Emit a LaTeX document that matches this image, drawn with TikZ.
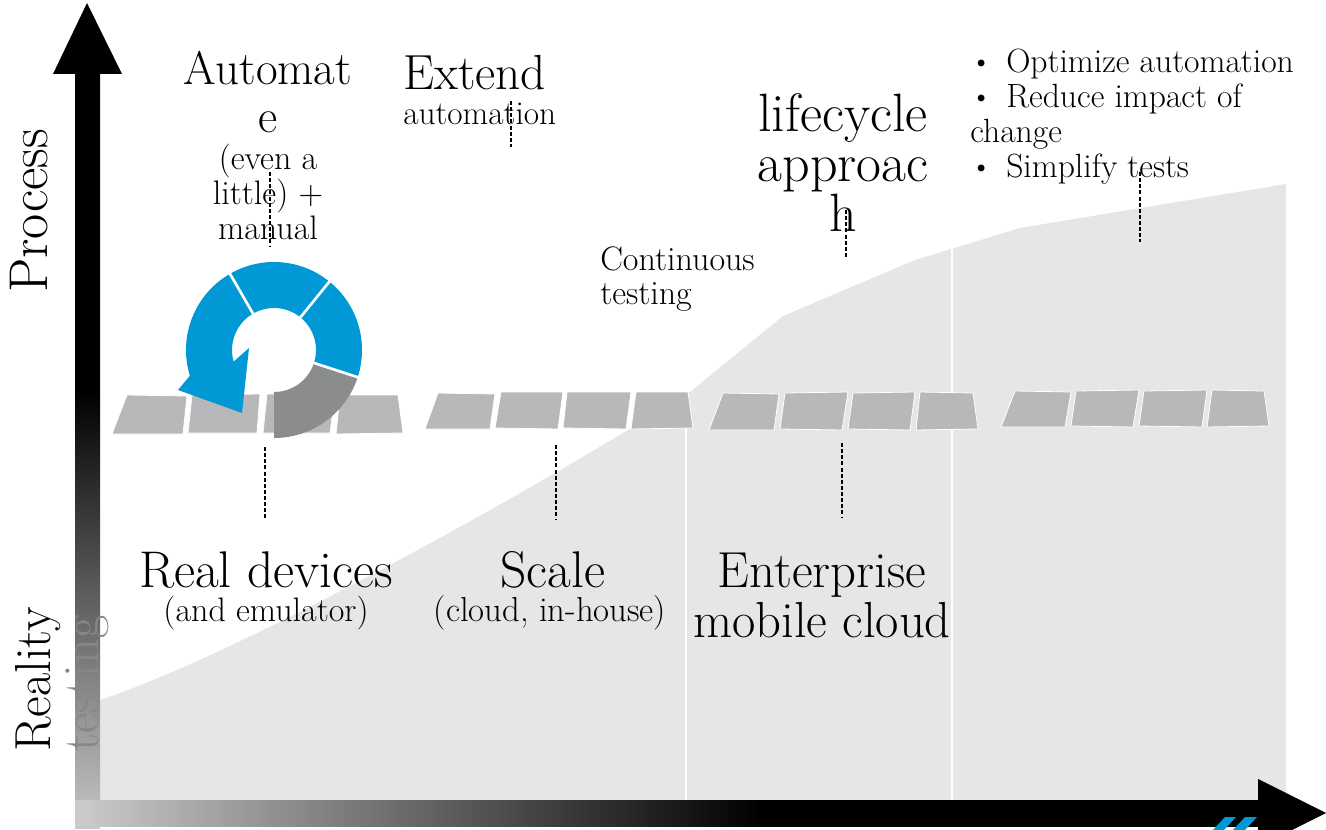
\documentclass[tikz,border=0pt]{standalone}
\usepackage{fontspec}
\usetikzlibrary{calc}
\definecolor{areagray}{HTML}{E4E6E7}
\definecolor{tilegray}{HTML}{B8B8BA}
\definecolor{ringblue}{HTML}{0098D5}
\definecolor{ringgray}{HTML}{8B8C8E}
\definecolor{labelgray}{HTML}{878787}
\pgfdeclarehorizontalshading{xaxisshade}{100bp}{color(0bp)=(black!20); color(25bp)=(black!20); color(54bp)=(black); color(100bp)=(black)}
\pgfdeclareverticalshading{yaxisshade}{100bp}{color(0bp)=(black!22); color(25bp)=(black!22); color(54bp)=(black); color(100bp)=(black)}
\tikzset{
  tile/.style={fill=tilegray, draw=white, line width=0.6pt, line join=round},
  guide/.style={draw=black, line width=1pt, dash pattern=on 3pt off 1.6pt},
  sep/.style={draw=white, line width=2pt},
  divider/.style={draw=white, line width=2.2pt},
  bigtxt/.style={inner sep=0pt, font=\fontsize{38.7}{37.5}\selectfont},
  smalltxt/.style={inner sep=0pt, font=\fontsize{25.5}{26.25}\selectfont},
}
\newcommand{\bul}{\makebox[27pt][l]{\raisebox{0.03em}{\scalebox{0.9}{\textbullet}}}}
\begin{document}
\begin{tikzpicture}[x=0.75pt,y=-0.75pt]
\useasboundingbox (0,0) rectangle (1326,830);
% grey area under the curve
\fill[areagray] (100,800) -- (100,700) .. controls (250,650) and (550,480) .. (690,392)
  -- (783,316) -- (915,260) -- (1020,228) -- (1286,184) -- (1286,800) -- cycle;
\draw[divider] (686,392) -- (686,800);
\draw[divider] (952,247) -- (952,800);
% axes
\shade[shading=yaxisshade] (75,74) rectangle (100,828);
\fill[black] (53,74) -- (87,3) -- (122,74) -- cycle;
\shade[shading=xaxisshade] (75,800) rectangle (1259,826);
\fill[black] (1258,779) -- (1326,813) -- (1258,847) -- cycle;
% logo fragment
\fill[ringblue] (1213,830) -- (1225,817) -- (1236,817) -- (1224,830) -- cycle;
\fill[ringblue] (1233,830) -- (1245,817) -- (1257,817) -- (1245,830) -- cycle;
% tiles group 1
\path[tile] (127,395) -- (187,396) -- (183,434) -- (112,434) -- cycle;
\path[tile] (192,395) -- (260,394) -- (257,433) -- (188,433) -- cycle;
\path[tile] (267,394) -- (335,395) -- (330,433) -- (263,433) -- cycle;
\path[tile] (340,395) -- (398,395) -- (403,433) -- (336,434) -- cycle;
% tiles group 2
\path[tile] (438,393) -- (495,394) -- (490,429) -- (425,429) -- cycle;
\path[tile] (501,392) -- (563,392) -- (558,429) -- (495,428) -- cycle;
\path[tile] (567,392) -- (631,392) -- (626,429) -- (563,428) -- cycle;
\path[tile] (636,392) -- (688,392) -- (693,428) -- (631,429) -- cycle;
% tiles group 3
\path[tile] (723,393) -- (779,394) -- (774,430) -- (709,430) -- cycle;
\path[tile] (785,393) -- (848,392) -- (842,430) -- (780,429) -- cycle;
\path[tile] (853,393) -- (915,392) -- (910,430) -- (848,429) -- cycle;
\path[tile] (920,392) -- (973,393) -- (978,429) -- (916,430) -- cycle;
% tiles group 4
\path[tile] (1015,391) -- (1071,392) -- (1065,427) -- (1001,427) -- cycle;
\path[tile] (1076,391) -- (1139,390) -- (1133,427) -- (1071,426) -- cycle;
\path[tile] (1144,391) -- (1207,390) -- (1202,427) -- (1139,426) -- cycle;
\path[tile] (1212,390) -- (1264,391) -- (1269,426) -- (1207,427) -- cycle;
% circular arrow
\coordinate (cc) at (274,350);
\fill[ringgray] ([shift={(90:88)}]cc) arc[start angle=90, end angle=18, radius=88]
  -- ([shift={(18:42)}]cc) arc[start angle=18, end angle=90, radius=42] -- cycle;
\fill[ringblue] ([shift={(18:88)}]cc) arc[start angle=18, end angle=-51, radius=88]
  -- ([shift={(-51:42)}]cc) arc[start angle=-51, end angle=18, radius=42] -- cycle;
\fill[ringblue] ([shift={(-51:88)}]cc) arc[start angle=-51, end angle=-120, radius=88]
  -- ([shift={(-120:42)}]cc) arc[start angle=-120, end angle=-51, radius=42] -- cycle;
\fill[ringblue] ([shift={(-120:88)}]cc) arc[start angle=-120, end angle=-197, radius=88]
  -- (178,390) -- (242,413) -- (249,348)
  -- ([shift={(-196:42)}]cc) arc[start angle=-196, end angle=-120, radius=42] -- cycle;
\draw[sep] ([shift={(18:40)}]cc) -- ([shift={(18:90)}]cc);
\draw[sep] ([shift={(-51:40)}]cc) -- ([shift={(-51:90)}]cc);
\draw[sep] ([shift={(-120:40)}]cc) -- ([shift={(-120:90)}]cc);
% axis labels
\node[inner sep=0pt, font=\fontsize{41}{40}\selectfont, rotate=90, anchor=base west] (process) at (47,293) {Process};
\node[inner sep=0pt, font=\fontsize{38}{36}\selectfont, rotate=90, anchor=base west] (reality) at (50,752) {Reality};
\node[inner sep=0pt, font=\fontsize{38}{36}\selectfont, rotate=90, anchor=base west, text=labelgray] (testing) at (98,752) {testing};
% top labels
\node[inner sep=0pt, font=\fontsize{35.3}{36}\selectfont, align=center, anchor=base] (automate) at (268,133) {Automat\\e};
\node[smalltxt, align=center, anchor=base] (manual) at (268,240) {(even a\\little) +\\manual};
\node[inner sep=0pt, font=\fontsize{37}{36}\selectfont, anchor=base west] (extend) at (403,90) {Extend};
\node[smalltxt, font=\fontsize{25}{26}\selectfont, anchor=base west] (extauto) at (403,125) {automation};
\node[inner sep=0pt, font=\fontsize{40.5}{37.5}\selectfont, align=center, anchor=base] (lifecycle) at (843,232) {lifecycle\\approac\\h};
\node[smalltxt, font=\fontsize{25.5}{25.5}\selectfont, align=left, anchor=base west] (contin) at (600,305) {Continuous\\testing};
\node[smalltxt, font=\fontsize{25.2}{26.25}\selectfont, align=left, anchor=base west] (bullets) at (970,178) {\bul Optimize automation\\\bul Reduce impact of\\change\\\bul Simplify tests};
% bottom labels
\node[bigtxt, anchor=base] (real) at (266,587) {Real devices};
\node[smalltxt, anchor=base] (emul) at (266,621) {(and emulator)};
\node[bigtxt, anchor=base] (scale) at (553,587) {Scale};
\node[smalltxt, font=\fontsize{26}{26.25}\selectfont, anchor=base] (cloud) at (550,621) {(cloud, in-house)};
\node[inner sep=0pt, font=\fontsize{38}{37.5}\selectfont, align=center, anchor=base] (enterprise) at (822,637) {Enterprise\\mobile cloud};
% dashed guides
\coordinate (g1a) at (265,447); \coordinate (g1b) at (265,520);
\coordinate (g2a) at (556,445); \coordinate (g2b) at (556,520);
\coordinate (g3a) at (842,443); \coordinate (g3b) at (842,517);
\coordinate (g4a) at (270,172); \coordinate (g4b) at (270,247);
\coordinate (g5a) at (511,101); \coordinate (g5b) at (511,147);
\coordinate (g6a) at (846,210); \coordinate (g6b) at (846,257);
\coordinate (g7a) at (1140,172); \coordinate (g7b) at (1140,242);
\draw[guide] (g1a) -- (g1b);
\draw[guide] (g2a) -- (g2b);
\draw[guide] (g3a) -- (g3b);
\draw[guide] (g4a) -- (g4b);
\draw[guide] (g5a) -- (g5b);
\draw[guide] (g6a) -- (g6b);
\draw[guide] (g7a) -- (g7b);
\end{tikzpicture}
\end{document}
